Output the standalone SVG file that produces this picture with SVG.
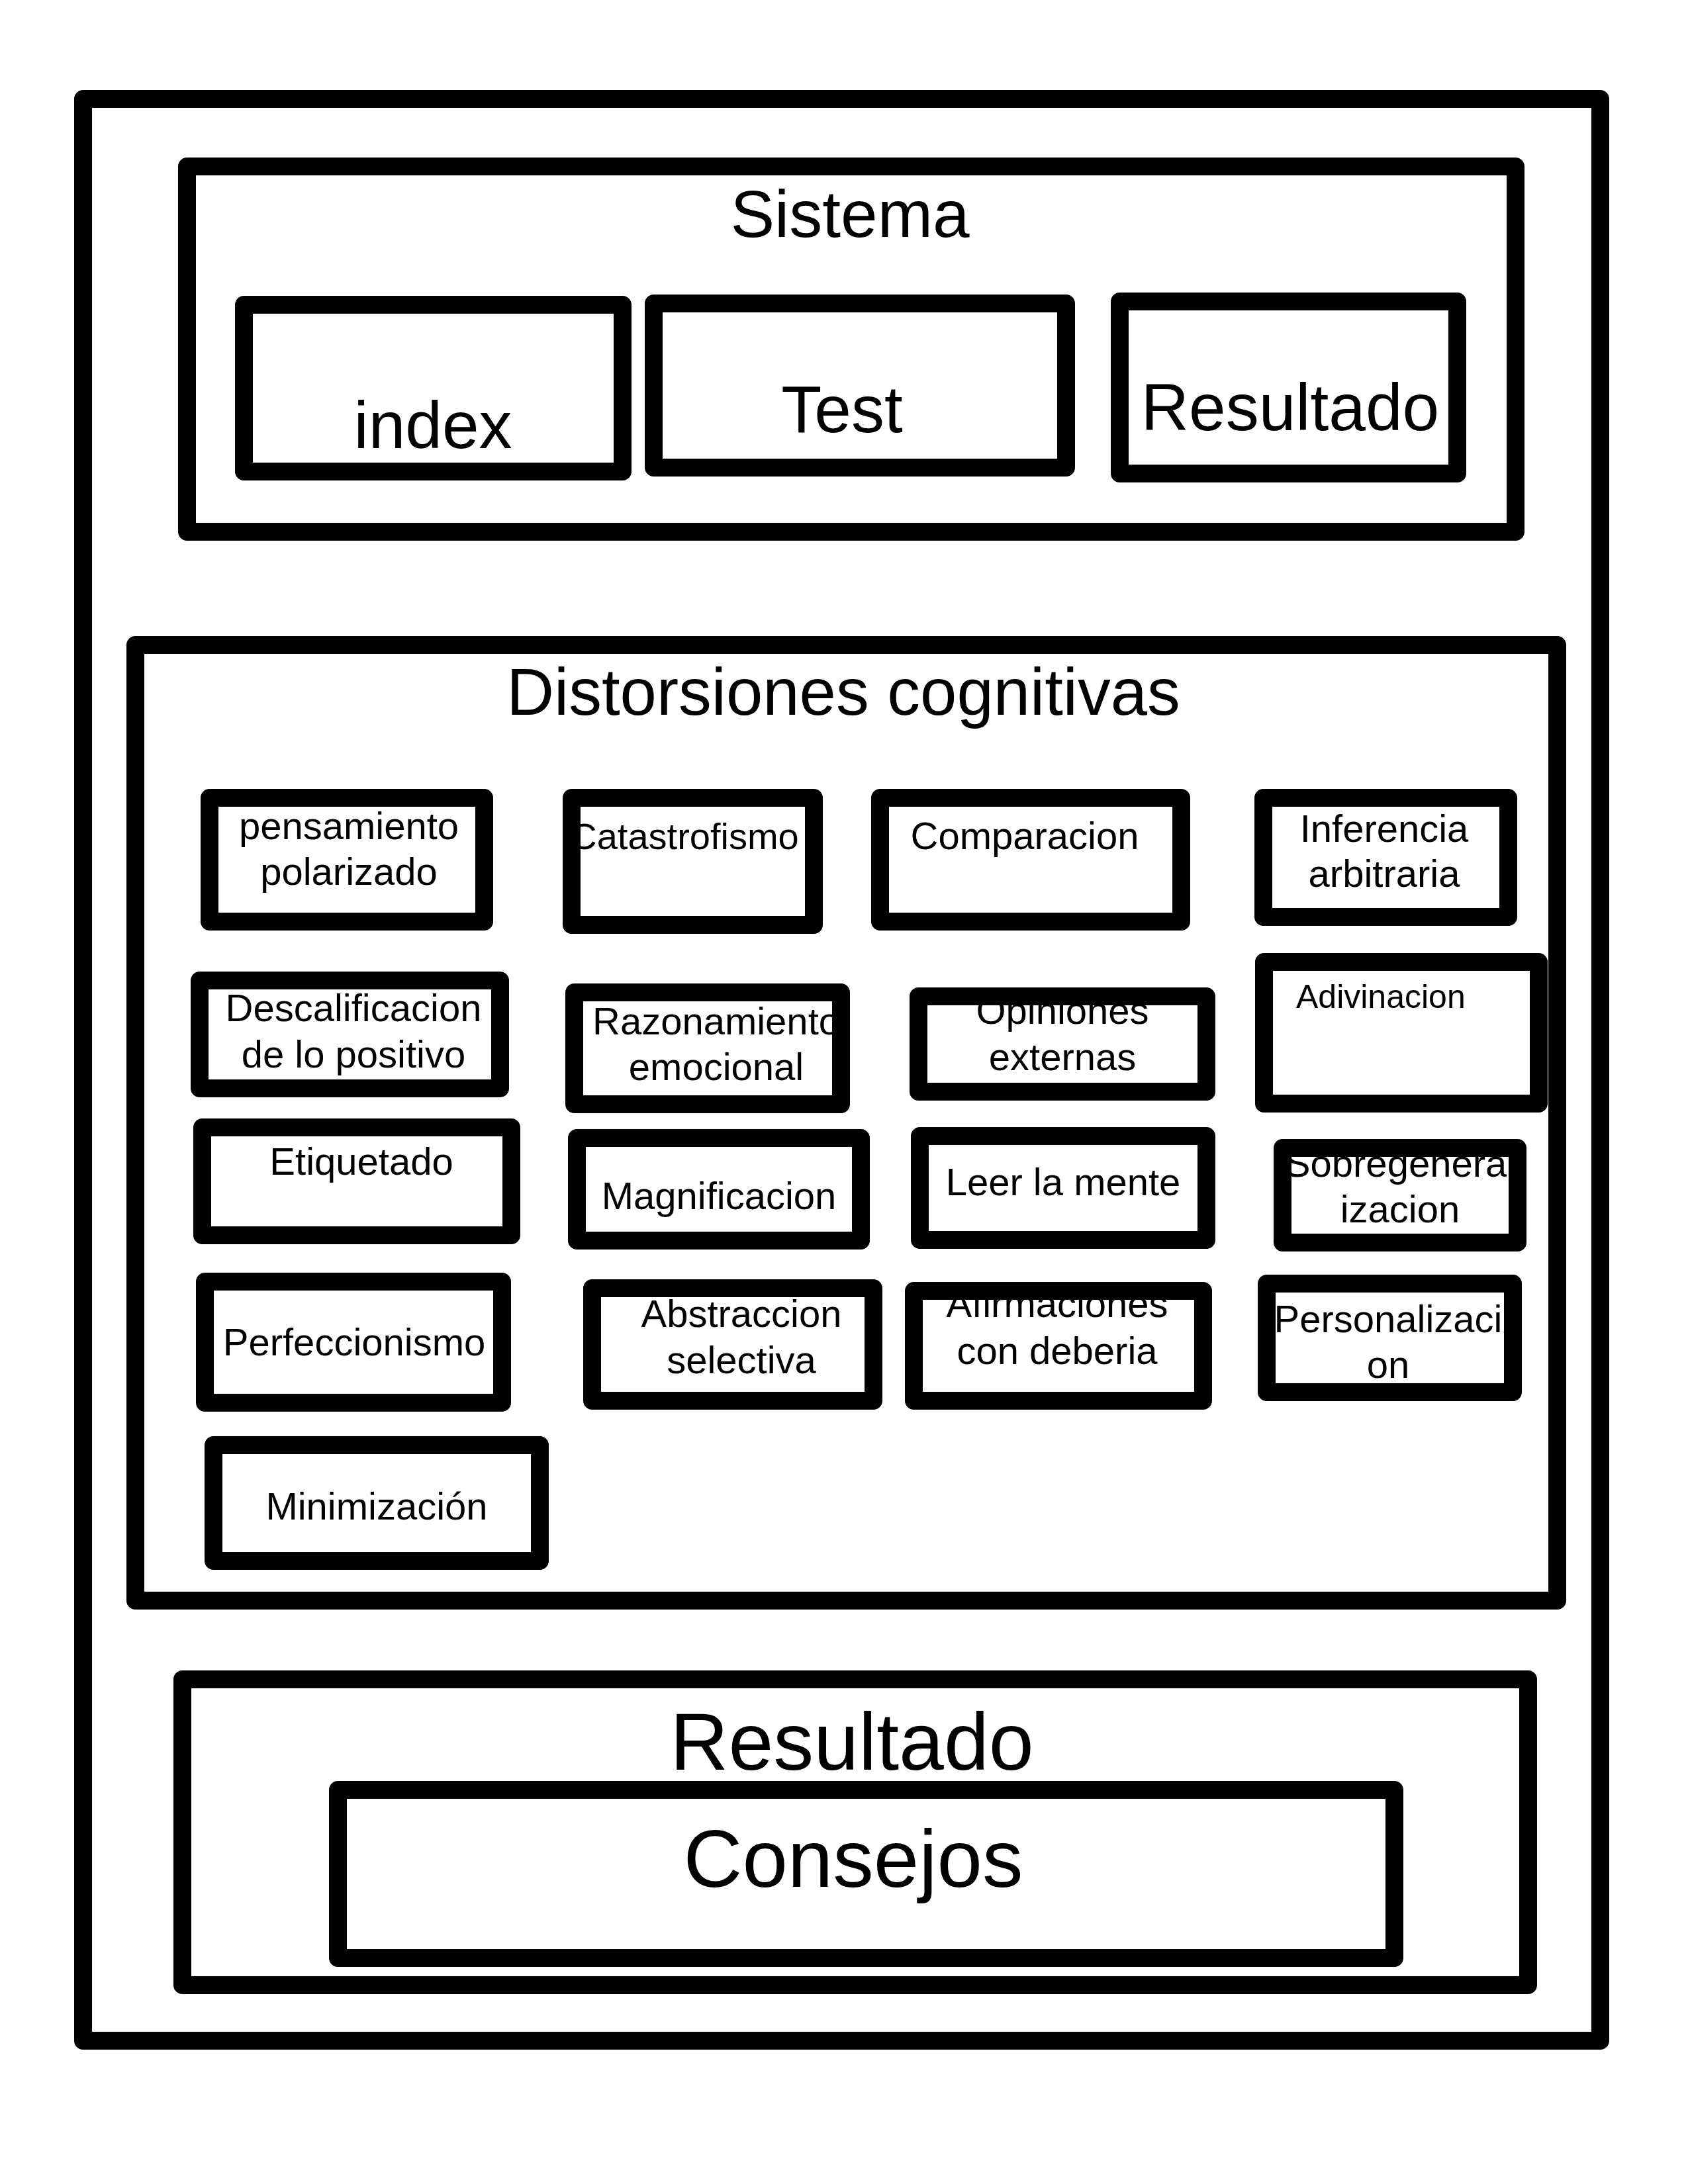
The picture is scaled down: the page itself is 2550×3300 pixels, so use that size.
<svg xmlns="http://www.w3.org/2000/svg" width="2550" height="3300" viewBox="0 0 2550 3300">
<style>
.bg{fill:#fff;stroke:none}
.bd{fill:none;stroke:#000;stroke-width:27;stroke-linejoin:round}
text{font-family:"Liberation Sans",Arial,sans-serif;fill:#000;text-anchor:middle}
text.st{text-anchor:start}
.big{font-size:100px}
.huge{font-size:123px}
.lbl{font-size:58px}
.sm{font-size:50px}
</style>
<rect width="2550" height="3300" fill="#fff"/>
<g id="frame"><rect class="bd" x="125.5" y="149.5" width="2292" height="2934"/></g>

<g id="sistema">
<rect class="bg" x="282.5" y="251.5" width="2007" height="552"/>
<text class="big" x="1284" y="358">Sistema</text>
<rect class="bd" x="282.5" y="251.5" width="2007" height="552"/>
</g>
<g id="index"><rect class="bg" x="368.5" y="460.5" width="572" height="252"/><text class="big" x="654" y="677">index</text><rect class="bd" x="368.5" y="460.5" width="572" height="252"/></g>
<g id="test"><rect class="bg" x="987.5" y="458.5" width="623" height="248"/><text class="big" x="1272" y="653">Test</text><rect class="bd" x="987.5" y="458.5" width="623" height="248"/></g>
<g id="resultado-page"><rect class="bg" x="1691.5" y="455.5" width="510" height="260"/><text class="big" x="1949" y="650">Resultado</text><rect class="bd" x="1691.5" y="455.5" width="510" height="260"/></g>

<g id="distorsiones">
<rect class="bg" x="204.5" y="974.5" width="2148" height="1444"/>
<text style="font-size:99.5px" x="1274" y="1080">Distorsiones cognitivas</text>
<rect class="bd" x="204.5" y="974.5" width="2148" height="1444"/>
</g>

<g id="pensamiento"><rect class="bg" x="316.5" y="1205.5" width="415" height="187"/><text class="lbl" x="527" y="1268">pensamiento</text><text class="lbl" x="527" y="1337">polarizado</text><rect class="bd" x="316.5" y="1205.5" width="415" height="187"/></g>
<g id="catastrofismo"><rect class="bg" x="863.5" y="1205.5" width="366" height="192"/><text style="font-size:56px" x="1034" y="1283">Catastrofismo</text><rect class="bd" x="863.5" y="1205.5" width="366" height="192"/></g>
<g id="comparacion"><rect class="bg" x="1329.5" y="1205.5" width="455" height="187"/><text class="lbl" x="1548" y="1283">Comparacion</text><rect class="bd" x="1329.5" y="1205.5" width="455" height="187"/></g>
<g id="inferencia"><rect class="bg" x="1908.5" y="1205.5" width="370" height="180"/><text class="lbl" x="2091" y="1272">Inferencia</text><text class="lbl" x="2091" y="1340">arbitraria</text><rect class="bd" x="1908.5" y="1205.5" width="370" height="180"/></g>

<g id="descalificacion"><rect class="bg" x="301.5" y="1481.5" width="454" height="163"/><text class="lbl" x="534" y="1543">Descalificacion</text><text class="lbl" x="534" y="1613">de lo positivo</text><rect class="bd" x="301.5" y="1481.5" width="454" height="163"/></g>
<g id="razonamiento"><rect class="bg" x="867.5" y="1499.5" width="403" height="169"/><text class="lbl" x="1082" y="1563">Razonamiento</text><text class="lbl" x="1082" y="1632">emocional</text><rect class="bd" x="867.5" y="1499.5" width="403" height="169"/></g>
<g id="opiniones"><rect class="bg" x="1387.5" y="1505.5" width="435" height="144"/><text class="lbl" x="1605" y="1547">Opiniones</text><text class="lbl" x="1605" y="1617">externas</text><rect class="bd" x="1387.5" y="1505.5" width="435" height="144"/></g>
<g id="adivinacion"><rect class="bg" x="1909.5" y="1453.5" width="415" height="214"/><text class="sm st" x="1958" y="1523">Adivinacion</text><rect class="bd" x="1909.5" y="1453.5" width="415" height="214"/></g>

<g id="etiquetado"><rect class="bg" x="305.5" y="1703.5" width="467" height="163"/><text class="lbl" x="546" y="1775">Etiquetado</text><rect class="bd" x="305.5" y="1703.5" width="467" height="163"/></g>
<g id="magnificacion"><rect class="bg" x="871.5" y="1719.5" width="429" height="155"/><text class="lbl" x="1086" y="1827">Magnificacion</text><rect class="bd" x="871.5" y="1719.5" width="429" height="155"/></g>
<g id="leer"><rect class="bg" x="1389.5" y="1716.5" width="433" height="157"/><text class="lbl" x="1606" y="1806">Leer la mente</text><rect class="bd" x="1389.5" y="1716.5" width="433" height="157"/></g>
<g id="sobregeneralizacion"><rect class="bg" x="1937.5" y="1734.5" width="355" height="143"/><text class="lbl" x="2115" y="1778">Sobregeneral</text><text class="lbl" x="2115" y="1847">izacion</text><rect class="bd" x="1937.5" y="1734.5" width="355" height="143"/></g>

<g id="perfeccionismo"><rect class="bg" x="309.5" y="1936.5" width="449" height="183"/><text class="lbl" x="535" y="2048">Perfeccionismo</text><rect class="bd" x="309.5" y="1936.5" width="449" height="183"/></g>
<g id="abstraccion"><rect class="bg" x="894.5" y="1946.5" width="425" height="170"/><text class="lbl" x="1120" y="2005">Abstraccion</text><text class="lbl" x="1120" y="2075">selectiva</text><rect class="bd" x="894.5" y="1946.5" width="425" height="170"/></g>
<g id="afirmaciones"><rect class="bg" x="1380.5" y="1950.5" width="437" height="166"/><text class="lbl" x="1597" y="1990">Afirmaciones</text><text class="lbl" x="1597" y="2061">con deberia</text><rect class="bd" x="1380.5" y="1950.5" width="437" height="166"/></g>
<g id="personalizacion"><rect class="bg" x="1913.5" y="1939.5" width="372" height="164"/><text class="lbl" x="2097" y="2013">Personalizaci</text><text class="lbl" x="2097" y="2082">on</text><rect class="bd" x="1913.5" y="1939.5" width="372" height="164"/></g>

<g id="minimizacion"><rect class="bg" x="322.5" y="2183.5" width="493" height="175"/><text class="lbl" x="569" y="2296">Minimización</text><rect class="bd" x="322.5" y="2183.5" width="493" height="175"/></g>

<g id="resultado">
<rect class="bg" x="275.5" y="2537.5" width="2033" height="462"/>
<text style="font-size:122px" x="1287" y="2674">Resultado</text>
<rect class="bd" x="275.5" y="2537.5" width="2033" height="462"/>
</g>
<g id="consejos"><rect class="bg" x="510.5" y="2704.5" width="1596" height="254"/><text class="huge" x="1289" y="2851">Consejos</text><rect class="bd" x="510.5" y="2704.5" width="1596" height="254"/></g>

<g id="connectors"></g>
</svg>
